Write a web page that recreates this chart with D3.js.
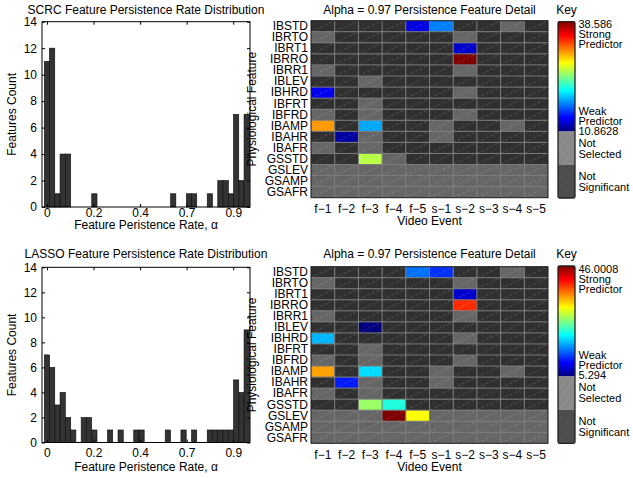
<!DOCTYPE html>
<html><head><meta charset="utf-8">
<script src="https://cdn.jsdelivr.net/npm/d3@7"></script>
<style>
html,body{margin:0;padding:0;background:#fff;}
svg{display:block;font-family:"Liberation Sans",Arial,Helvetica,sans-serif;}
</style></head>
<body><svg id="c" width="633" height="478"></svg>
<script>
// ---------- DATA ----------
const binCenters = [0,0.025,0.051,0.076,0.102,0.127,0.152,0.178,0.203,0.229,0.254,0.279,0.305,0.330,0.356,0.381,0.406,0.432,0.457,0.483,0.508,0.533,0.559,0.584,0.610,0.635,0.660,0.686,0.711,0.737,0.762,0.787,0.813,0.838,0.864,0.889,0.914,0.940,0.965];
const binWidth = 0.0254;
const scrcCounts  = [11,12,1,4,4,0,0,0,0,1,0,0,0,0,0,0,0,0,0,0,0,0,0,0,1,0,0,1,1,0,0,1,0,2,2,1,7,2,7];
const lassoCounts = [7,6,3,4,2,1,0,2,2,1,0,0,1,0,1,0,0,1,1,0,0,0,0,1,0,0,1,0,1,0,0,1,1,1,1,1,5,4,9];
const histTickValues = [0,0.225,0.45,0.675,0.9];
const histTickLabels = ["0","0.2","0.4","0.7","0.9"];
const countTicks = [0,2,4,6,8,10,12,14];

const features = ["IBSTD","IBRTO","IBRT1","IBRRO","IBRR1","IBLEV","IBHRD","IBFRT","IBFRD","IBAMP","IBAHR","IBAFR","GSSTD","GSLEV","GSAMP","GSAFR"];
const events = ["f\u22121","f\u22122","f\u22123","f\u22124","f\u22125","s\u22121","s\u22122","s\u22123","s\u22124","s\u22125"];
// 0 = not significant, -1 = not selected, >0 = predictor strength
const scrcDetail = [
  [0,0,0,0,13.5,17.8,0,0,-1,0],
  [-1,0,0,0,0,0,-1,0,0,0],
  [0,0,0,0,0,0,12.9,0,0,0],
  [0,0,0,0,0,0,38.586,0,0,0],
  [-1,0,0,0,0,0,-1,0,0,0],
  [0,0,-1,0,0,0,0,0,0,0],
  [13.9,0,0,0,0,0,-1,0,0,0],
  [0,0,-1,0,0,0,0,0,0,0],
  [-1,0,-1,0,0,0,-1,0,0,0],
  [30.9,0,18.9,0,0,-1,0,0,-1,0],
  [0,11.8,-1,0,0,-1,0,0,0,0],
  [-1,0,-1,0,0,0,0,0,0,0],
  [0,0,26.3,-1,0,0,0,0,0,0],
  [-1,-1,-1,-1,-1,-1,-1,-1,-1,-1],
  [-1,-1,-1,-1,-1,-1,-1,-1,-1,-1],
  [-1,-1,-1,-1,-1,-1,-1,-1,-1,-1]
];
const lassoDetail = [
  [0,0,0,0,14.9,12.3,0,0,-1,0],
  [-1,0,0,0,0,0,-1,0,0,0],
  [0,0,0,0,0,0,8.4,0,0,0],
  [0,0,0,0,0,0,39.2,0,0,0],
  [-1,0,0,0,0,0,-1,0,0,0],
  [0,0,5.294,0,0,0,0,0,0,0],
  [17.7,0,0,0,0,0,-1,0,0,0],
  [0,0,-1,0,0,0,0,0,0,0],
  [-1,0,-1,0,0,0,-1,0,0,0],
  [34.5,0,19.2,0,0,-1,0,0,-1,0],
  [0,11.4,-1,0,0,-1,0,0,0,0],
  [-1,0,-1,0,0,0,0,0,0,0],
  [0,0,26.7,21.8,0,0,0,0,0,0],
  [-1,-1,-1,46.0008,30.7,-1,-1,-1,-1,-1],
  [-1,-1,-1,-1,-1,-1,-1,-1,-1,-1],
  [-1,-1,-1,-1,-1,-1,-1,-1,-1,-1]
];
const scrcRange = [10.8628, 38.586];
const lassoRange = [5.294, 46.0008];
const scrcRangeLabels = ["38.586","10.8628"];
const lassoRangeLabels = ["46.0008","5.294"];

// ---------- DRAW ----------
const svg = d3.select("#c");
const FONT = 12;
const defs = svg.append("defs");
const jetStops = [0,0.125,0.375,0.625,0.875,1];
const jetColors = ["#00007f","#0000ff","#00ffff","#ffff00","#ff0000","#7f0000"];

const grad = defs.append("linearGradient").attr("id","jet").attr("x1",0).attr("y1",1).attr("x2",0).attr("y2",0);
jetStops.forEach((s,i)=>grad.append("stop").attr("offset",s).attr("stop-color",jetColors[i]));
const pat = defs.append("pattern").attr("id","tex").attr("width",6).attr("height",6)
  .attr("patternUnits","userSpaceOnUse").attr("patternTransform","rotate(35)");
pat.append("line").attr("x1",0).attr("y1",0).attr("x2",0).attr("y2",6).attr("stroke","#000").attr("stroke-opacity",0.06).attr("stroke-width",2);

function hist(cfg){
  const g = svg.append("g");
  const x = d3.scaleLinear().domain([-0.024,0.981]).range([cfg.x0,cfg.x1]);
  const y = d3.scaleLinear().domain([0,14]).range([cfg.y1,cfg.y0]);
  g.selectAll("rect.bar").data(cfg.counts.map((c,i)=>({c, m:binCenters[i]})).filter(d=>d.c>0))
    .enter().append("rect")
    .attr("x",d=>x(d.m-binWidth/2)).attr("width",x(binWidth)-x(0))
    .attr("y",d=>y(d.c)).attr("height",d=>y(0)-y(d.c))
    .attr("fill","#333333").attr("stroke","#0a0a0a").attr("stroke-width",0.6);
  const ax = d3.axisBottom(x).tickValues(histTickValues).tickFormat((d,i)=>histTickLabels[i]).tickSize(-3).tickPadding(0);
  const gx = g.append("g").attr("transform",`translate(0,${cfg.y1})`).call(ax);
  const axT = d3.axisTop(x).tickValues(histTickValues).tickFormat("").tickSize(-3);
  const gxt = g.append("g").attr("transform",`translate(0,${cfg.y0})`).call(axT);
  const ay = d3.axisLeft(y).tickValues(countTicks).tickSize(-3).tickPadding(5);
  const gy = g.append("g").attr("transform",`translate(${cfg.x0},0)`).call(ay);
  const ayR = d3.axisRight(y).tickValues(countTicks).tickFormat("").tickSize(-3);
  const gyr = g.append("g").attr("transform",`translate(${cfg.x1},0)`).call(ayR);
  [gx,gxt,gy,gyr].forEach(a=>{
    a.select(".domain").remove();
    a.selectAll("line").attr("stroke","#000");
    a.selectAll("text").attr("font-size",FONT).attr("font-family","Liberation Sans, Arial, sans-serif").attr("fill","#000");
  });
  gx.selectAll("text").attr("y",cfg.tickBase).attr("dy",0);
  g.append("rect").attr("x",cfg.x0).attr("y",cfg.y0).attr("width",cfg.x1-cfg.x0).attr("height",cfg.y1-cfg.y0)
    .attr("fill","none").attr("stroke","#000").attr("stroke-width",1);
  g.append("text").attr("x",(cfg.x0+cfg.x1)/2).attr("y",cfg.titleY).attr("text-anchor","middle")
    .attr("font-size",FONT).text(cfg.title);
  g.append("text").attr("x",(cfg.x0+cfg.x1)/2).attr("y",cfg.xlabY).attr("text-anchor","middle")
    .attr("font-size",FONT).text("Feature Peristence Rate, \u03b1");
  g.append("text").attr("transform",`translate(${16},${(cfg.y0+cfg.y1)/2}) rotate(-90)`).attr("text-anchor","middle")
    .attr("font-size",FONT).text("Features Count");
}

function heat(cfg){
  const g = svg.append("g");
  const x = d3.scaleBand().domain(events).range([cfg.x0,cfg.x1]);
  const y = d3.scaleBand().domain(features).range([cfg.y0,cfg.y1]);
  const [lo,hi] = cfg.range;
  const jet = d3.scaleLinear().domain(jetStops.map(s=>lo+s*(hi-lo))).range(jetColors).interpolate(d3.interpolateRgb).clamp(true);
  const cells = [];
  cfg.matrix.forEach((row,r)=>row.forEach((v,c)=>cells.push({f:features[r],e:events[c],v})));
  const color = v => v===0 ? "#303030" : (v<0 ? "#666666" : jet(v));
  g.selectAll("rect.cell").data(cells).enter().append("rect")
    .attr("x",d=>x(d.e)).attr("y",d=>y(d.f)).attr("width",x.bandwidth()).attr("height",y.bandwidth())
    .attr("fill",d=>color(d.v));
  g.selectAll("line.hatch").data(cells).enter().append("line")
    .attr("x1",d=>x(d.e)).attr("y1",d=>y(d.f)+y.bandwidth())
    .attr("x2",d=>x(d.e)+x.bandwidth()).attr("y2",d=>y(d.f))
    .attr("stroke","#ffffff").attr("stroke-opacity",0.28).attr("stroke-width",0.6).attr("stroke-dasharray","3,2");
  g.selectAll("line.vg").data(events.slice(1)).enter().append("line")
    .attr("x1",d=>x(d)).attr("x2",d=>x(d)).attr("y1",cfg.y0).attr("y2",cfg.y1)
    .attr("stroke","#7a7a7a").attr("stroke-width",1);
  g.selectAll("line.hg").data(features.slice(1)).enter().append("line")
    .attr("x1",cfg.x0).attr("x2",cfg.x1).attr("y1",d=>y(d)).attr("y2",d=>y(d))
    .attr("stroke","#7a7a7a").attr("stroke-width",1);
  g.append("rect").attr("x",cfg.x0).attr("y",cfg.y0).attr("width",cfg.x1-cfg.x0).attr("height",cfg.y1-cfg.y0)
    .attr("fill","none").attr("stroke","#1a1a1a").attr("stroke-width",1);
  const ay = d3.axisLeft(y).tickSize(0).tickPadding(3);
  const gy = g.append("g").attr("transform",`translate(${cfg.x0},0)`).call(ay);
  const axb = d3.axisBottom(x).tickSize(0).tickPadding(7);
  const gx = g.append("g").attr("transform",`translate(0,${cfg.y1})`).call(axb);
  [gx,gy].forEach(a=>{
    a.select(".domain").remove();
    a.selectAll("text").attr("font-size",FONT).attr("font-family","Liberation Sans, Arial, sans-serif").attr("fill","#000");
  });
  g.append("text").attr("x",(cfg.x0+cfg.x1)/2).attr("y",cfg.titleY).attr("text-anchor","middle")
    .attr("font-size",FONT).text("Alpha = 0.97 Persistence Feature Detail");
  g.append("text").attr("x",(cfg.x0+cfg.x1)/2).attr("y",cfg.y1+27.5).attr("text-anchor","middle")
    .attr("font-size",FONT).text("Video Event");
  g.append("text").attr("transform",`translate(${256},${(cfg.y0+cfg.y1)/2}) rotate(-90)`).attr("text-anchor","middle")
    .attr("font-size",FONT).text("Physiological Feature");

  // key
  const kx0 = 558, kx1 = 575;
  const ky0 = cfg.ky0, ky1 = cfg.ky1;
  const kH = ky1-ky0;
  const jB = ky0 + kH*0.623, gB = ky0 + kH*0.81;
  const k = svg.append("g");
  k.append("rect").attr("x",kx0).attr("y",ky0).attr("width",kx1-kx0).attr("height",jB-ky0).attr("fill","url(#jet)");
  k.append("rect").attr("x",kx0).attr("y",jB).attr("width",kx1-kx0).attr("height",gB-jB).attr("fill","#8c8c8c");
  k.append("rect").attr("x",kx0).attr("y",gB).attr("width",kx1-kx0).attr("height",ky1-gB).attr("fill","#4e4e4e");
  k.append("rect").attr("x",kx0).attr("y",jB).attr("width",kx1-kx0).attr("height",ky1-jB).attr("fill","url(#tex)");
  k.append("rect").attr("x",kx0).attr("y",ky0).attr("width",kx1-kx0).attr("height",kH)
    .attr("fill","none").attr("stroke","#222").attr("stroke-width",1.3).attr("rx",1.5);
  k.append("text").attr("x",(kx0+kx1)/2).attr("y",cfg.titleY).attr("text-anchor","middle").attr("font-size",FONT).text("Key");
  const tx = 578.5, KF = 11;
  const lab = (t,yy)=>k.append("text").attr("x",tx).attr("y",yy).attr("font-size",KF).text(t);
  lab(cfg.rangeLabels[0], ky0+6.5);
  lab("Strong", ky0+16.5);
  lab("Predictor", ky0+26.5);
  lab("Weak", jB-17);
  lab("Predictor", jB-7);
  lab(cfg.rangeLabels[1], jB+3);
  lab("Not", jB+15);
  lab("Selected", jB+26);
  const gm = (gB+ky1)/2;
  lab("Not", gm-1.5);
  lab("Significant", gm+9.5);
}

hist({x0:42,x1:250,y0:21.7,y1:207,counts:scrcCounts,title:"SCRC Feature Persistence Rate Distribution",titleY:13.5,xlabY:229,tickBase:9.5});
hist({x0:42,x1:250,y0:267.3,y1:442.5,counts:lassoCounts,title:"LASSO Feature Persistence Rate Distribution",titleY:257.5,xlabY:471,tickBase:14});
heat({x0:311,x1:548,y0:20.7,y1:197.7,matrix:scrcDetail,range:scrcRange,rangeLabels:scrcRangeLabels,titleY:13.5,ky0:21.7,ky1:198});
heat({x0:311,x1:548,y0:266.7,y1:443.3,matrix:lassoDetail,range:lassoRange,rangeLabels:lassoRangeLabels,titleY:257.5,ky0:266,ky1:443.3});
</script></body></html>
